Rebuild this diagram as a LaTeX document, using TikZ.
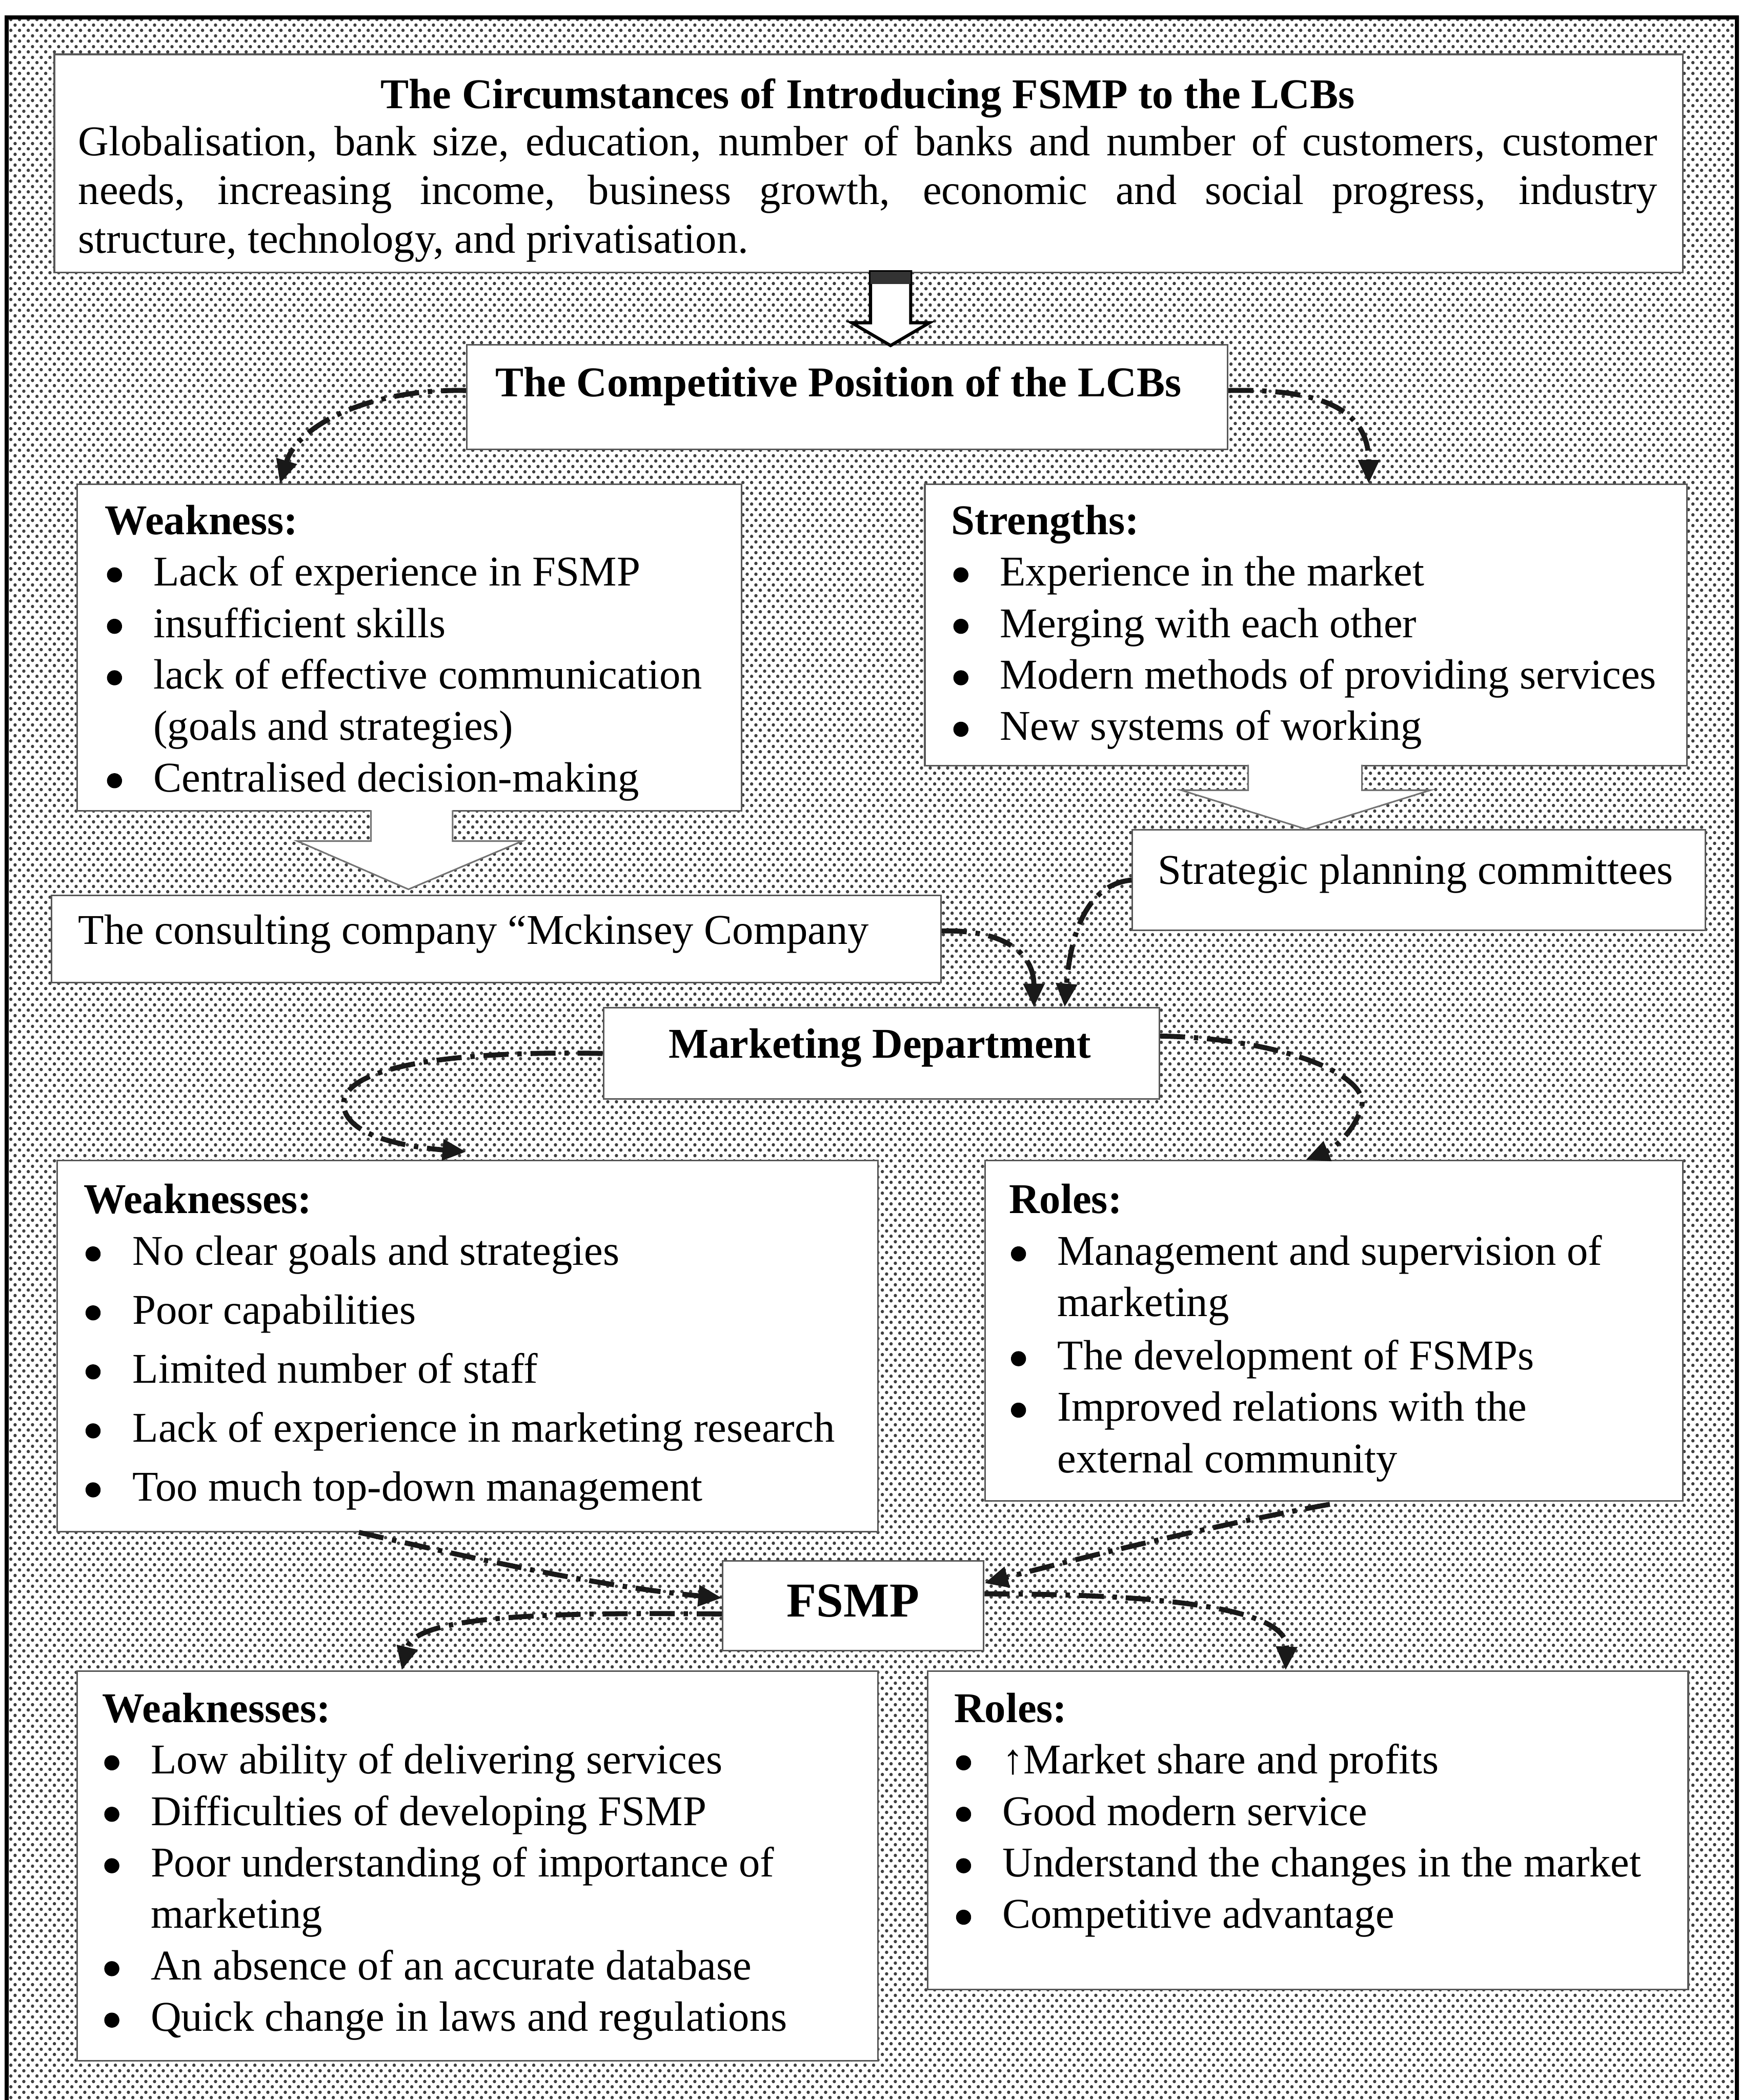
\documentclass[tikz,border=0pt]{standalone}
\usepackage{fontspec}
\setmainfont{Liberation Serif}
\usetikzlibrary{arrows.meta,calc,patterns}

\pgfdeclarepatternformonly{hexdots}{\pgfqpoint{0pt}{0pt}}{\pgfqpoint{2.83pt}{3.38pt}}{\pgfqpoint{2.83pt}{3.38pt}}{%
  \pgfpathcircle{\pgfqpoint{0.7pt}{0.8pt}}{0.55pt}%
  \pgfpathcircle{\pgfqpoint{2.115pt}{2.49pt}}{0.55pt}%
  \pgfusepath{fill}}

\newcommand\bfs{\fontsize{13.5pt}{16.4pt}\selectfont}
\newcommand\hd[1]{\multicolumn{2}{@{}l@{}}{\textbf{#1}}}
\newcommand\bl{\hspace{0.6pt}\tikz[baseline=0pt]\fill[black] (0pt,3.5pt) circle[radius=2.4pt];}

\tikzset{
  x=0.015cm, y=-0.015cm,
  box/.style={draw=black!65, line width=0.5pt, fill=white, inner sep=0pt, anchor=north west},
  bw/.style={minimum width=#1*0.015cm},
  bh/.style={minimum height=#1*0.015cm},
  txt/.style={inner sep=0pt, anchor=base west, font=\bfs},
  conn/.style={line width=1.6pt, black!90, dash pattern=on 8pt off 2.8pt on 1.4pt off 2.8pt,
               -{Triangle[length=7.5pt,width=6.5pt]}},
}

\begin{document}
\begin{tikzpicture}
\useasboundingbox (0,0) rectangle (1299,1568);
\fill[white] (0,0) rectangle (1299,1568);
\fill[pattern=hexdots, pattern color=black!75] (5,13) rectangle (1297,1568);
\draw[line width=1.4pt] (5,1568) -- (5,13) -- (1297,13) -- (1297,1568);

% boxes
\node[box, bw=1216, bh=163] (top) at (40,40) {};
\node[box, bw=568, bh=78] (comp) at (348,257) {};
\node[box, bw=496, bh=244] (weak1) at (57,361) {};
\node[box, bw=569, bh=210] (str) at (690,361) {};
\node[box, bw=664, bh=65] (cons) at (38,668) {};
\node[box, bw=428, bh=75] (strat) at (845,619) {};
\node[box, bw=415, bh=68] (mkt) at (450,752) {};
\node[box, bw=613, bh=277] (weak2) at (42,866) {};
\node[box, bw=521, bh=254] (roles2) at (735,866) {};
\node[box, bw=195, bh=67] (fsmp) at (539,1165) {};
\node[box, bw=598, bh=291] (weak3) at (57,1247) {};
\node[box, bw=568, bh=238] (roles3) at (692,1247) {};

% hollow block arrows
\filldraw[fill=white, draw=black, line width=1pt] (650,203) -- (650,241) -- (636,241) -- (665,258) -- (694,241) -- (680,241) -- (680,203) -- cycle;
\fill[black!80] (650,203) rectangle (680,212);

\fill[white] (277,604) -- (277,628) -- (222,628) -- (305,664) -- (390,628) -- (338,628) -- (338,604) -- cycle;
\draw[black!55, line width=0.5pt] (277,605) -- (277,628) -- (222,628) -- (305,664) -- (390,628) -- (338,628) -- (338,605);

\fill[white] (932,570) -- (932,590) -- (882,590) -- (975,619) -- (1068,590) -- (1017,590) -- (1017,570) -- cycle;
\draw[black!55, line width=0.5pt] (932,571) -- (932,590) -- (882,590) -- (975,619) -- (1068,590) -- (1017,590) -- (1017,571);

% texts
\node[txt, anchor=base, font=\bfs\bfseries] (t0) at (648,81) {The Circumstances of Introducing FSMP to the LCBs};
\node[txt] (t1) at (58,116) {\begin{tabular}[t]{@{}l@{}}
\makebox[503.2pt][s]{Globalisation, bank size, education, number of banks and number of customers, customer}\\[-0.8pt]
\makebox[503.2pt][s]{needs, increasing income, business growth, economic and social progress, industry}\\[-0.8pt]
structure, technology, and privatisation.\end{tabular}};

\node[txt, anchor=base, font=\bfs\bfseries] (tc) at (626,296) {The Competitive Position of the LCBs};
\node[txt, anchor=base, font=\bfs] (ts) at (1057,660) {Strategic planning committees};
\node[txt, anchor=base, font=\bfs\bfseries] (tm) at (657,790) {Marketing Department};
\node[txt, anchor=base, font=\fontsize{15.5pt}{18pt}\selectfont\bfseries] (tf) at (637,1207) {FSMP};

\node[txt] (t2) at (78,399) {\begin{tabular}[t]{@{}p{15.4pt}@{}l@{}}\hd{Weakness:}\\
\bl & Lack of experience in FSMP\\
\bl & insufficient skills\\
\bl & lack of effective communication\\
 & (goals and strategies)\\
\bl & Centralised decision-making\end{tabular}};

\node[txt] (t3) at (710,399) {\begin{tabular}[t]{@{}p{15.4pt}@{}l@{}}\hd{Strengths:}\\
\bl & Experience in the market\\
\bl & Merging with each other\\
\bl & Modern methods of providing services\\
\bl & New systems of working\end{tabular}};

\node[txt] (t4) at (58,705) {The consulting company “Mckinsey Company};

\node[txt] (t5) at (62,906) {\begin{tabular}[t]{@{}p{15.6pt}@{}l@{}}\hd{Weaknesses:}\\
\bl & No clear goals and strategies\\[2.4pt]
\bl & Poor capabilities\\[2.4pt]
\bl & Limited number of staff\\[2.4pt]
\bl & Lack of experience in marketing research\\[2.4pt]
\bl & Too much top-down management\end{tabular}};

\node[txt] (t6) at (753,906) {\begin{tabular}[t]{@{}p{15.4pt}@{}l@{}}\hd{Roles:}\\
\bl & Management and supervision of\\
 & marketing\\[0.6pt]
\bl & The development of FSMPs\\
\bl & Improved relations with the\\
 & external community\end{tabular}};

\node[txt] (t7) at (76,1286) {\begin{tabular}[t]{@{}p{15.4pt}@{}l@{}}\hd{Weaknesses:}\\
\bl & Low ability of delivering services\\
\bl & Difficulties of developing FSMP\\
\bl & Poor understanding of importance of\\
 & marketing\\
\bl & An absence of an accurate database\\
\bl & Quick change in laws and regulations\end{tabular}};

\node[txt] (t8) at (712,1286) {\begin{tabular}[t]{@{}p{15.4pt}@{}l@{}}\hd{Roles:}\\
\bl & ↑Market share and profits\\
\bl & Good modern service\\
\bl & Understand the changes in the market\\
\bl & Competitive advantage\end{tabular}};

% dash-dot connectors
\draw[conn] ($(comp.west)+(0,-5)$) .. controls (275,290) and (222,318) .. ($(weak1.north west)+(152,0)$);
\draw[conn] ($(comp.east)+(0,-5)$) .. controls (985,290) and (1022,305) .. ($(str.north west)+(332,0)$);
\draw[conn] ($(cons.east)+(0,-6)$) .. controls (750,694) and (772,712) .. ($(mkt.north west)+(322,0)$);
\draw[conn] (strat.west) .. controls (815,660) and (800,690) .. ($(mkt.north west)+(345,0)$);
\draw[conn] (mkt.west) .. controls (320,784) and (250,800) .. (257,828) .. controls (262,848) and (300,856) .. ($(weak2.north west)+(306,-6)$);
\draw[conn] ($(mkt.east)+(0,-13)$) .. controls (950,775) and (1020,800) .. (1017,825) .. controls (1012,845) and (995,858) .. ($(roles2.north west)+(240,0)$);
\draw[conn] ($(weak2.south west)+(226,0)$) .. controls (360,1165) and (450,1185) .. ($(fsmp.west)+(0,-6)$);
\draw[conn] ($(fsmp.west)+(0,6)$) .. controls (420,1204) and (310,1205) .. ($(weak3.north west)+(243,0)$);
\draw[conn] ($(roles2.south west)+(258,2)$) .. controls (900,1140) and (800,1165) .. ($(fsmp.east)+(0,-17)$);
\draw[conn] ($(fsmp.east)+(0,-9)$) .. controls (850,1190) and (962,1198) .. ($(roles3.north west)+(268,0)$);
\end{tikzpicture}
\end{document}
